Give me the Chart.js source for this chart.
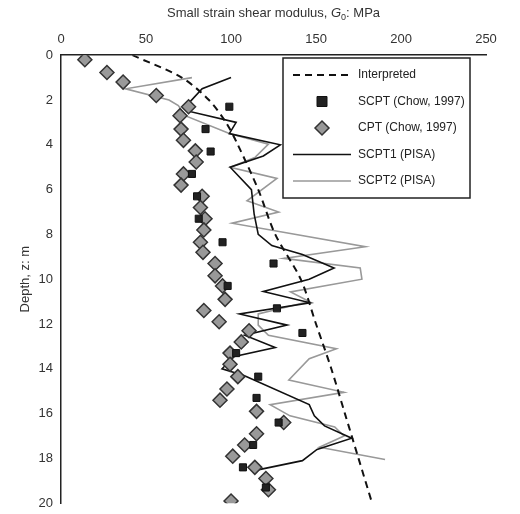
<!DOCTYPE html>
<html>
<head>
<script src="https://cdn.jsdelivr.net/npm/chart.js@4"></script>
<style>
body { margin:0; background:#fff; }
#wrap { width:520px; height:514px; }
</style>
</head>
<body>
<div id="wrap"><canvas id="c"></canvas></div>
<script>
// Interpreted profile
const interpG = [42, 71, 87, 97, 104, 116, 126, 141, 150, 159, 167, 175, 183];
const interpZ = [0, 1, 2, 3, 4, 6, 8, 10, 12, 14, 16, 18, 20];

// SCPT (Chow, 1997)
const scptG = [99, 85, 88, 77, 80, 81, 95, 125, 98, 127, 142, 103, 116, 115, 128, 113, 107, 120.5];
const scptZ = [2.3, 3.3, 4.3, 5.3, 6.3, 7.3, 8.35, 9.3, 10.3, 11.3, 12.4, 13.3, 14.35, 15.3, 16.4, 17.4, 18.4, 19.3];

// CPT (Chow, 1997)
const cptG = [14, 27, 36.5, 56, 75, 70, 70.6, 72, 79, 79.5, 72, 70.6, 83, 82, 84.7, 84, 82, 83.5, 90.6, 90.6, 95, 96.5, 84, 93, 110.6, 106, 99.4, 99.4, 104, 97.6, 93.5, 115, 131, 115, 108, 101, 114, 120.5, 122, 100];
const cptZ = [0.2, 0.77, 1.2, 1.8, 2.3, 2.7, 3.3, 3.8, 4.27, 4.77, 5.3, 5.8, 6.3, 6.8, 7.3, 7.8, 8.35, 8.8, 9.3, 9.85, 10.3, 10.9, 11.4, 11.9, 12.3, 12.8, 13.3, 13.8, 14.35, 14.9, 15.4, 15.9, 16.4, 16.9, 17.4, 17.9, 18.4, 18.9, 19.4, 19.9];

// SCPT1 (PISA)
const p1G = [100, 83, 75, 75, 103, 99, 129, 119, 99.5, 112, 113.6, 116, 124, 142, 160.6, 146, 119, 146.5, 105, 133, 108, 126, 102, 94.7, 107.6, 146, 149, 155, 171, 150.6, 142, 116.5];
const p1Z = [1.0, 1.5, 2.15, 2.5, 3.0, 3.5, 4.0, 4.5, 5.0, 6.0, 7.1, 8.0, 8.5, 8.9, 9.5, 10.0, 10.55, 11.05, 11.55, 12.05, 12.5, 13.05, 13.45, 14.0, 14.3, 15.6, 16.1, 16.55, 17.1, 17.6, 18.1, 18.5];

// SCPT2 (PISA)
const p2G = [77, 38, 63.5, 69, 73, 99, 122, 114, 99.5, 127, 109.4, 128, 100.6, 179, 131, 176, 177, 135, 146, 116, 116, 122, 162, 146, 134, 166.5, 123, 134.7, 161, 166.5, 152, 190.6];
const p2Z = [1.0, 1.5, 2.0, 2.25, 2.7, 3.5, 3.97, 4.57, 5.0, 5.5, 6.5, 7.0, 7.5, 8.55, 9.07, 9.5, 10.0, 10.57, 11.0, 11.55, 12.05, 12.5, 13.1, 13.55, 14.5, 15.05, 15.6, 16.1, 16.6, 17.0, 17.5, 18.05];

const xTicks = [0, 50, 100, 150, 200, 250];
const yTicks = [0, 2, 4, 6, 8, 10, 12, 14, 16, 18, 20];

const pts = (g, z) => g.map((v, i) => ({ x: v, y: z[i] }));
const FONT = 'Liberation Sans, Arial, sans-serif';

// Legend drawn inside the plot, boxed
const boxLegend = {
    id: 'boxLegend',
    afterDraw(chart) {
        const ctx = chart.ctx;
        const x0 = 283, y0 = 58, w = 187, h = 140;
        ctx.save();
        ctx.fillStyle = '#fff';
        ctx.fillRect(x0, y0, w, h);
        ctx.strokeStyle = '#222';
        ctx.lineWidth = 1.5;
        ctx.strokeRect(x0, y0, w, h);
        ctx.font = '12px ' + FONT;
        ctx.fillStyle = '#222';
        ctx.textBaseline = 'middle';
        chart.data.datasets.forEach((ds, i) => {
            const yy = y0 + 17 + i * 26.5;
            const lx = x0 + 10, rx = x0 + 68;
            if (ds.showLine) {
                ctx.beginPath();
                ctx.setLineDash(ds.borderDash || []);
                ctx.strokeStyle = ds.borderColor;
                ctx.lineWidth = ds.borderWidth;
                ctx.moveTo(lx, yy); ctx.lineTo(rx, yy);
                ctx.stroke();
                ctx.setLineDash([]);
            } else {
                const cx = (lx + rx) / 2;
                ctx.fillStyle = ds.backgroundColor;
                ctx.strokeStyle = ds.borderColor;
                ctx.lineWidth = ds.borderWidth;
                ctx.beginPath();
                if (ds.pointStyle === 'rect') {
                    ctx.rect(cx - 5, yy - 5, 10, 10);
                } else {
                    ctx.moveTo(cx, yy - 7); ctx.lineTo(cx + 7, yy);
                    ctx.lineTo(cx, yy + 7); ctx.lineTo(cx - 7, yy);
                    ctx.closePath();
                }
                ctx.fill(); ctx.stroke();
            }
            ctx.fillStyle = '#222';
            ctx.font = '12px ' + FONT;
            ctx.fillText(ds.label, x0 + 75, yy);
        });
        // top axis title with italic G and subscript 0
        ctx.fillStyle = '#333';
        ctx.textBaseline = 'alphabetic';
        const a = 'Small strain shear modulus, ', b = 'G', c = '0', d = ': MPa';
        ctx.font = '13px ' + FONT;
        const wa = ctx.measureText(a).width, wd = ctx.measureText(d).width;
        ctx.font = 'italic 13px ' + FONT;
        const wb = ctx.measureText(b).width;
        ctx.font = '9px ' + FONT;
        const wc = ctx.measureText(c).width;
        let tx = (chart.chartArea.left + chart.chartArea.right) / 2 - (wa + wb + wc + wd) / 2;
        const ty = 17;
        ctx.font = '13px ' + FONT; ctx.fillText(a, tx, ty); tx += wa;
        ctx.font = 'italic 13px ' + FONT; ctx.fillText(b, tx, ty); tx += wb;
        ctx.font = '9px ' + FONT; ctx.fillText(c, tx, ty + 3); tx += wc;
        ctx.font = '13px ' + FONT; ctx.fillText(d, tx, ty);
        ctx.restore();
    }
};

new Chart(document.getElementById('c'), {
    type: 'scatter',
    data: {
        datasets: [
            { label: 'Interpreted', data: pts(interpG, interpZ), showLine: true, borderColor: '#111', borderWidth: 2, borderDash: [7, 5], pointRadius: 0, tension: 0.3 },
            { label: 'SCPT (Chow, 1997)', data: pts(scptG, scptZ), pointStyle: 'rect', pointRadius: 5, backgroundColor: '#222', borderColor: '#111', borderWidth: 1 },
            { label: 'CPT (Chow, 1997)', data: pts(cptG, cptZ), pointStyle: 'rectRot', pointRadius: 7, backgroundColor: '#999', borderColor: '#333', borderWidth: 1.5 },
            { label: 'SCPT1 (PISA)', data: pts(p1G, p1Z), showLine: true, borderColor: '#111', borderWidth: 1.6, pointRadius: 0 },
            { label: 'SCPT2 (PISA)', data: pts(p2G, p2Z), showLine: true, borderColor: '#999', borderWidth: 1.6, pointRadius: 0 }
        ]
    },
    options: {
        responsive: true,
        maintainAspectRatio: false,
        animation: false,
        layout: { padding: { left: 16, right: 34, top: 9, bottom: 10 } },
        plugins: { legend: { display: false }, tooltip: { enabled: false } },
        scales: {
            x: {
                position: 'top', min: 0, max: 250,
                afterBuildTicks: s => { s.ticks = xTicks.map(v => ({ value: v })); },
                grid: { display: false, drawTicks: true, tickLength: 5, tickColor: '#222' },
                border: { color: '#222', width: 1.5 },
                ticks: { color: '#333', font: { family: FONT, size: 13 }, maxRotation: 0 },
                title: { display: true, text: ' ', font: { family: FONT, size: 13 }, padding: 2 }
            },
            y: {
                reverse: true, min: 0, max: 20,
                afterBuildTicks: s => { s.ticks = yTicks.map(v => ({ value: v })); },
                grid: { display: false, drawTicks: true, tickLength: 5, tickColor: '#222' },
                border: { color: '#222', width: 1.5 },
                ticks: { color: '#333', font: { family: FONT, size: 13 } },
                title: { display: true, text: 'Depth, z: m', color: '#333', font: { family: FONT, size: 13 }, padding: 2 }
            }
        }
    },
    plugins: [boxLegend]
});
</script>
</body>
</html>
